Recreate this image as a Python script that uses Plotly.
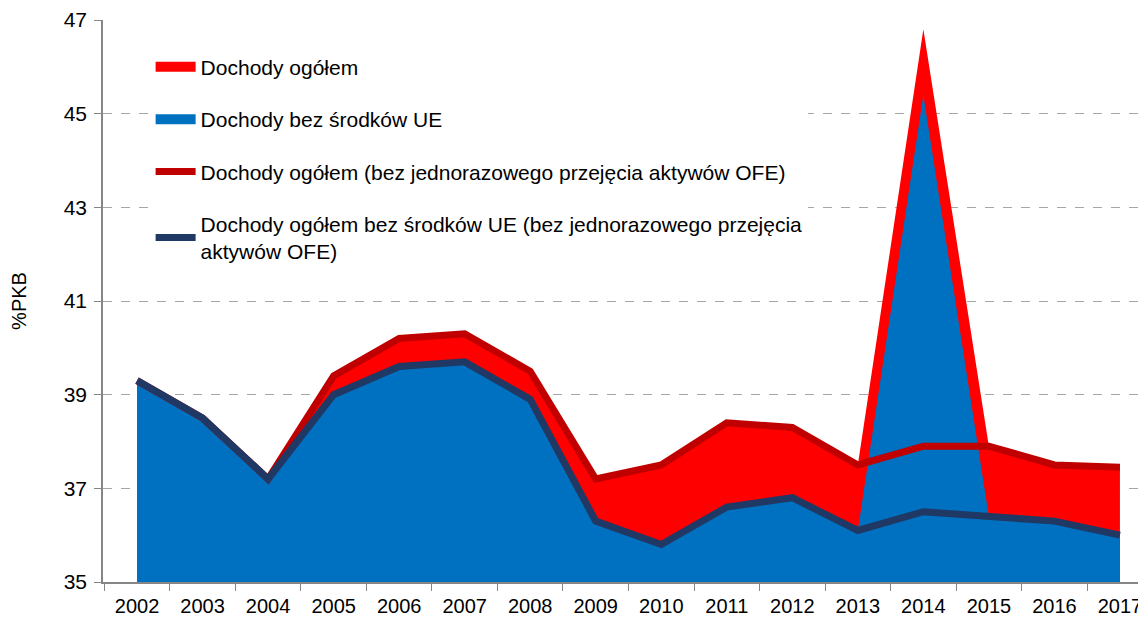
import plotly.graph_objects as go

# Lata
years = [str(y) for y in range(2002, 2018)]

# Dochody ogółem (obszar czerwony)
dochody_ogolem = [39.3, 38.5, 37.2, 39.4, 40.2, 40.3, 39.5, 37.2,
                  37.5, 38.4, 38.3, 37.5, 46.8, 37.9, 37.5, 37.45]
# Dochody bez środków UE (obszar niebieski)
dochody_bez_ue = [39.3, 38.5, 37.2, 39.0, 39.6, 39.7, 38.9, 36.3,
                  35.8, 36.6, 36.8, 36.1, 45.4, 36.4, 36.3, 36.0]
# Dochody ogółem bez jednorazowego przejęcia aktywów OFE
dochody_ogolem_bez_ofe = [39.3, 38.5, 37.2, 39.4, 40.2, 40.3, 39.5, 37.2,
                          37.5, 38.4, 38.3, 37.5, 37.9, 37.9, 37.5, 37.45]
# Dochody ogółem bez środków UE, bez przejęcia OFE
dochody_bez_ue_bez_ofe = [39.3, 38.5, 37.2, 39.0, 39.6, 39.7, 38.9, 36.3,
                          35.8, 36.6, 36.8, 36.1, 36.5, 36.4, 36.3, 36.0]

FONT = "Liberation Sans, Arial, sans-serif"

fig = go.Figure()

# obszary (legenda rysowana osobno, grubszym prostokątem)
fig.add_trace(go.Scatter(
    x=years, y=dochody_ogolem,
    mode="lines", fill="tozeroy",
    fillcolor="#FF0000", line={"width": 0, "color": "#FF0000"},
    showlegend=False, hoverinfo="skip",
))
fig.add_trace(go.Scatter(
    x=years, y=dochody_bez_ue,
    mode="lines", fill="tozeroy",
    fillcolor="#0070C0", line={"width": 0, "color": "#0070C0"},
    showlegend=False, hoverinfo="skip",
))
fig.add_trace(go.Scatter(
    x=years, y=dochody_ogolem_bez_ofe,
    mode="lines",
    line={"width": 7, "color": "#C00000"},
    name="Dochody ogółem (bez jednorazowego przejęcia aktywów OFE)",
    legendgroup="c", legendrank=3,
))
fig.add_trace(go.Scatter(
    x=years, y=dochody_bez_ue_bez_ofe,
    mode="lines",
    line={"width": 7, "color": "#1F3864"},
    name="Dochody ogółem bez środków UE (bez jednorazowego przejęcia<br>aktywów OFE)",
    legendgroup="d", legendrank=4,
))

# wpisy legendy dla obszarów
fig.add_trace(go.Scatter(
    x=[None], y=[None], mode="lines",
    line={"width": 12, "color": "#FF0000"},
    name="Dochody ogółem", legendgroup="a", legendrank=1,
))
fig.add_trace(go.Scatter(
    x=[None], y=[None], mode="lines",
    line={"width": 12, "color": "#0070C0"},
    name="Dochody bez środków UE", legendgroup="b", legendrank=2,
))

# strona ma 8 px marginesu body, więc marginesy są o to pomniejszone
fig.update_layout(
    width=1146, height=621,
    paper_bgcolor="white", plot_bgcolor="white",
    font={"family": FONT, "color": "#000000", "size": 19},
    margin={"l": 95, "r": 0, "t": 12, "b": 47},
    showlegend=True,
    legend={
        "x": 0.0453, "y": 0.9525, "xanchor": "left", "yanchor": "top",
        "bgcolor": "white", "font": {"size": 21, "family": FONT},
        "traceorder": "grouped", "tracegroupgap": 22,
        "itemwidth": 40,
    },
    xaxis={
        "type": "category",
        "range": [-0.52, 15.52],
        "tickson": "boundaries",
        "ticks": "outside", "ticklen": 7, "tickcolor": "#868686",
        "ticklabelstandoff": 5,
        "showline": True, "linecolor": "#868686", "linewidth": 1.5,
        "showgrid": False, "zeroline": False,
        "tickfont": {"size": 20},
        "automargin": False,
    },
    yaxis={
        "range": [35, 47], "tick0": 35, "dtick": 2,
        "ticks": "outside", "ticklen": 7, "tickcolor": "#868686",
        "ticklabelstandoff": 3,
        "showline": True, "linecolor": "#868686", "linewidth": 1.5,
        "showgrid": True, "gridcolor": "#A6A6A6", "griddash": "dash",
        "gridwidth": 1, "zeroline": False,
        "tickfont": {"size": 21},
        "title": {"text": "%PKB", "font": {"size": 20}, "standoff": 35},
        "automargin": False,
    },
)

fig.write_html("out.html")
